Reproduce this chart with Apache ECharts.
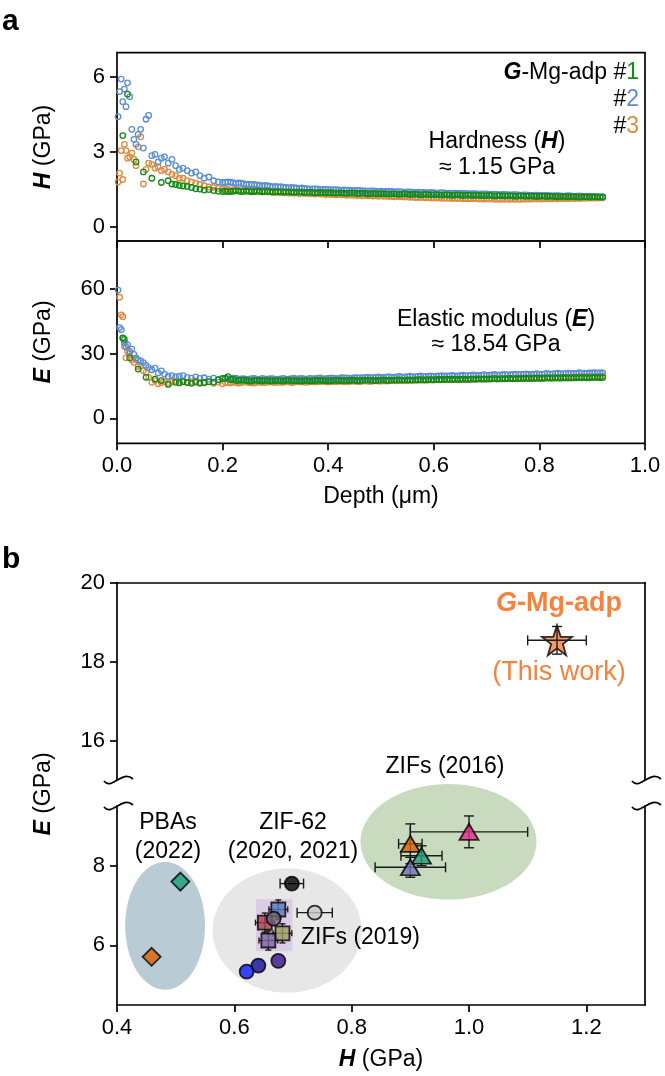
<!DOCTYPE html>
<html><head><meta charset="utf-8">
<script src="https://cdn.jsdelivr.net/npm/echarts@6/dist/echarts.min.js"></script>
<style>html,body{margin:0;padding:0;background:#fff}#c{width:665px;height:1076px}</style>
</head><body><div id="c"></div>
<script>
const FONT = "'Liberation Sans', Arial, Helvetica, sans-serif";

// ---------- Panel a data ----------
const depth = [0.002,0.005,0.008,0.011,0.014,0.017,0.020,0.024,0.028,0.032,0.036,0.040,0.045,0.050,0.055,0.060,0.066,0.072,0.078,0.084,0.090,0.097,0.104,0.111,0.118,0.125,0.133,0.141,0.149,0.157,0.165,0.174,0.183,0.192,0.200,
0.21,0.22,0.23,0.24,0.25,0.26,0.27,0.28,0.29,0.30,0.31,0.32,0.33,0.34,0.35,0.36,0.37,0.38,0.39,0.40,
0.41,0.42,0.43,0.44,0.45,0.46,0.47,0.48,0.49,0.50,0.51,0.52,0.53,0.54,0.55,0.56,0.57,0.58,0.59,0.60,
0.61,0.62,0.63,0.64,0.65,0.66,0.67,0.68,0.69,0.70,0.71,0.72,0.73,0.74,0.75,0.76,0.77,0.78,0.79,0.80,
0.81,0.82,0.83,0.84,0.85,0.86,0.87,0.88,0.89,0.90,0.91,0.92];
const depthHalf = [0.205,0.215,0.225,0.235,0.245,0.255,0.265,0.275,0.285,0.295,0.305,0.315,0.325,0.335,0.345,0.355,0.365,0.375,0.385,0.395,
0.405,0.415,0.425,0.435,0.445,0.455,0.465,0.475,0.485,0.495,0.505,0.515,0.525,0.535,0.545,0.555,0.565,0.575,0.585,0.595,
0.605,0.615,0.625,0.635,0.645,0.655,0.665,0.675,0.685,0.695,0.705,0.715,0.725,0.735,0.745,0.755,0.765,0.775,0.785,0.795,
0.805,0.815,0.825,0.835,0.845,0.855,0.865,0.875,0.885,0.895,0.905,0.915];

// Hardness, sample #1 (green), #2 (blue), #3 (orange)
const hard1 = [null,null,null,3.65,null,null,5.3,null,null,null,2.6,null,null,2.2,null,null,1.95,null,null,1.78,null,1.85,1.72,1.7,1.66,1.64,1.62,1.58,1.53,1.52,1.48,1.5,1.46,1.43,1.42,
1.42,1.43,1.44,1.43,1.43,1.42,1.43,1.42,1.42,1.41,1.41,1.41,1.40,1.40,1.40,1.39,1.39,1.38,1.38,1.38,
1.37,1.37,1.36,1.36,1.36,1.35,1.35,1.34,1.34,1.34,1.33,1.33,1.32,1.32,1.32,1.31,1.31,1.30,1.30,1.30,
1.29,1.29,1.28,1.28,1.28,1.27,1.27,1.27,1.26,1.26,1.26,1.25,1.25,1.25,1.24,1.24,1.24,1.24,1.23,1.23,
1.23,1.23,1.22,1.22,1.22,1.22,1.21,1.21,1.21,1.21,1.21,1.20];
const hard1Half = [1.43,1.42,1.45,1.42,1.44,1.41,1.44,1.41,1.43,1.40,1.42,1.40,1.41,1.39,1.41,1.38,1.40,1.37,1.39,1.37,
1.38,1.36,1.37,1.35,1.37,1.34,1.36,1.33,1.35,1.33,1.34,1.32,1.33,1.31,1.33,1.30,1.32,1.29,1.31,1.29,
1.30,1.28,1.29,1.27,1.29,1.26,1.28,1.26,1.27,1.25,1.27,1.24,1.26,1.24,1.25,1.23,1.25,1.23,1.24,1.22,
1.24,1.22,1.23,1.21,1.23,1.21,1.22,1.20,1.22,1.20,1.21,1.20];
const hard2 = [4.4,5.4,5.9,5.0,5.5,4.8,5.75,5.2,3.9,3.5,3.3,3.7,3.9,3.15,4.3,4.45,2.85,2.9,2.6,2.75,2.8,2.55,2.7,2.45,2.3,2.35,2.25,2.15,2.2,2.05,1.95,2.0,1.85,1.8,1.78,
1.80,1.77,1.76,1.73,1.71,1.70,1.67,1.66,1.63,1.62,1.61,1.58,1.58,1.56,1.56,1.54,1.53,1.53,1.51,1.51,
1.50,1.49,1.49,1.48,1.47,1.47,1.45,1.45,1.44,1.44,1.43,1.43,1.42,1.41,1.41,1.40,1.40,1.39,1.38,1.38,
1.37,1.37,1.36,1.36,1.35,1.35,1.34,1.34,1.33,1.33,1.32,1.31,1.31,1.30,1.30,1.29,1.29,1.28,1.28,1.27,
1.27,1.26,1.26,1.25,1.25,1.25,1.24,1.24,1.23,1.23,1.22,1.22];
const hard2Half = [1.78,1.79,1.74,1.75,1.70,1.69,1.68,1.64,1.65,1.60,1.60,1.59,1.56,1.57,1.54,1.55,1.52,1.53,1.50,1.51,
1.49,1.50,1.47,1.48,1.46,1.46,1.45,1.44,1.45,1.43,1.42,1.43,1.41,1.42,1.40,1.41,1.39,1.39,1.38,1.39,
1.36,1.38,1.35,1.36,1.35,1.35,1.33,1.34,1.32,1.33,1.31,1.32,1.30,1.31,1.29,1.30,1.28,1.29,1.27,1.28,
1.26,1.27,1.25,1.26,1.24,1.26,1.23,1.25,1.22,1.24,1.22,1.21];
const hard3 = [1.8,2.15,3.05,1.9,3.3,3.05,2.75,2.8,2.95,2.7,2.45,3.2,3.6,1.72,2.3,2.55,2.5,2.35,2.4,2.25,2.3,2.2,2.1,2.05,1.95,1.95,1.85,1.8,1.75,1.7,1.65,1.6,1.58,1.55,1.53,
1.51,1.49,1.48,1.47,1.46,1.44,1.44,1.42,1.41,1.40,1.39,1.38,1.37,1.37,1.36,1.35,1.34,1.34,1.33,1.32,
1.31,1.31,1.30,1.29,1.28,1.28,1.27,1.26,1.25,1.25,1.24,1.23,1.22,1.22,1.21,1.20,1.19,1.19,1.18,1.17,
1.17,1.16,1.16,1.15,1.15,1.14,1.14,1.14,1.13,1.13,1.13,1.12,1.12,1.12,1.12,1.12,1.12,1.12,1.13,1.13,
1.13,1.13,1.14,1.14,1.14,1.15,1.15,1.15,1.16,1.16,1.16,1.17];
const hard3Half = [1.50,1.48,1.47,1.45,1.45,1.43,1.43,1.41,1.40,1.39,1.38,1.38,1.36,1.36,1.34,1.35,1.33,1.32,1.32,1.30,
1.30,1.29,1.29,1.27,1.27,1.26,1.25,1.25,1.24,1.23,1.23,1.22,1.21,1.21,1.20,1.19,1.18,1.18,1.17,1.16,
1.16,1.15,1.15,1.14,1.14,1.13,1.13,1.13,1.12,1.12,1.12,1.11,1.11,1.11,1.11,1.11,1.11,1.12,1.12,1.12,
1.12,1.13,1.13,1.13,1.14,1.14,1.14,1.15,1.15,1.16,1.16,1.17];

// Elastic modulus, sample #1 (green), #2 (blue), #3 (orange)
const mod1 = [null,null,null,37.2,36.5,null,null,28,null,null,null,22.8,null,null,19,null,null,18.2,null,17.5,null,15.7,null,16.7,16.4,17,16.6,16.2,16.8,16.3,16.6,17,16.8,17.8,18.5,
19.3,18.2,17.6,17.8,17.3,17.6,17.4,17.5,17.3,17.5,17.4,17.6,17.4,17.5,17.3,17.5,17.4,17.6,17.5,17.4,
17.6,17.5,17.6,17.4,17.6,17.5,17.7,17.6,17.5,17.7,17.6,17.7,17.8,17.7,17.8,17.7,17.9,17.8,17.9,17.8,
18.0,17.9,18.0,18.1,18.0,18.1,18.2,18.1,18.2,18.2,18.3,18.2,18.3,18.4,18.3,18.4,18.5,18.4,18.5,18.5,
18.6,18.6,18.7,18.6,18.7,18.7,18.8,18.8,18.8,18.9,18.9,18.9];
const mod1Half = [18.6,17.9,17.5,17.6,17.5,17.3,17.6,17.4,17.6,17.4,17.5,17.3,17.6,17.4,17.4,17.5,17.3,17.5,17.6,17.5,
17.4,17.6,17.5,17.5,17.7,17.4,17.6,17.7,17.6,17.6,17.8,17.6,17.7,17.8,17.7,17.8,17.8,17.9,17.8,17.9,
17.9,18.0,18.1,18.0,18.1,18.2,18.0,18.2,18.3,18.2,18.2,18.4,18.3,18.3,18.5,18.4,18.4,18.6,18.5,18.6,
18.5,18.7,18.6,18.7,18.8,18.7,18.8,18.9,18.9,18.8,19.0,18.9];
const mod2 = [59.3,42,41,37,35,33,34,31,32,29.6,28,27,26.6,25.8,24.5,23.5,22.5,23.2,21,22,20.5,19.5,19.8,19.2,19.5,19.8,19.0,18.6,19.2,18.5,18.8,18.2,18.6,18.0,18.4,
18.3,18.6,18.1,18.4,18.2,18.5,18.0,18.3,18.4,18.1,18.3,18.2,18.4,18.3,18.5,18.2,18.4,18.6,18.3,18.5,
18.6,18.4,18.7,18.6,18.8,18.7,18.9,18.8,19.0,18.9,19.1,19.0,19.2,19.1,19.3,19.2,19.4,19.3,19.5,19.4,
19.6,19.5,19.7,19.6,19.8,19.7,19.9,19.8,20.0,19.9,20.1,20.0,20.2,20.1,20.3,20.2,20.4,20.3,20.5,20.4,
20.6,20.5,20.7,20.6,20.7,20.8,20.7,20.9,20.8,21.0,20.9,21.0];
const mod2Half = [18.5,18.2,18.6,18.3,18.0,18.4,18.2,18.5,18.2,18.4,18.1,18.5,18.2,18.6,18.4,18.3,18.5,18.4,18.7,18.4,
18.7,18.5,18.8,18.7,18.6,18.9,18.8,19.1,18.9,19.2,19.0,19.3,19.1,19.4,19.2,19.5,19.3,19.6,19.4,19.7,
19.5,19.8,19.6,19.9,19.7,20.0,19.8,20.1,19.9,20.2,20.0,20.3,20.1,20.4,20.2,20.5,20.3,20.6,20.4,20.7,
20.5,20.8,20.6,20.9,20.7,20.9,20.8,21.1,20.9,21.0,21.1,21.2];
const mod3 = [null,56,47.9,47,33.4,28,31,30,27,25.8,27.3,24,24.3,22,21.3,19,16.7,17.5,16,16.5,17,16.5,16.8,17.2,16.6,17,16.5,16.9,17.3,16.7,16.4,16.9,16.2,16.8,16.0,
16.5,16.8,16.3,16.9,16.6,16.4,16.8,16.5,16.9,16.6,16.7,16.9,16.6,17.0,16.8,16.7,17.0,16.9,17.1,16.8,
17.0,17.2,16.9,17.1,17.2,17.0,17.3,17.1,17.4,17.2,17.3,17.5,17.4,17.6,17.5,17.7,17.6,17.8,17.7,17.9,
17.8,18.0,17.9,18.1,18.0,18.2,18.1,18.3,18.2,18.4,18.3,18.5,18.4,18.6,18.5,18.7,18.6,18.8,18.7,18.9,
18.8,19.0,18.9,19.1,19.0,19.2,19.1,19.3,19.2,19.4,19.3,19.5];
const mod3Half = [16.7,16.4,16.7,16.5,16.8,16.4,16.7,16.6,16.8,16.7,16.8,16.7,16.9,16.7,16.9,16.8,17.0,16.8,17.0,16.9,
17.1,17.0,17.1,17.0,17.2,17.1,17.3,17.2,17.3,17.3,17.4,17.4,17.5,17.5,17.6,17.6,17.7,17.7,17.8,17.8,
17.9,17.9,18.0,18.0,18.1,18.1,18.2,18.2,18.3,18.3,18.4,18.4,18.5,18.5,18.6,18.6,18.7,18.7,18.8,18.8,
18.9,18.9,19.0,19.0,19.1,19.1,19.2,19.2,19.3,19.3,19.4,19.6];

const depthTicks = [0, 0.2, 0.4, 0.6, 0.8, 1.0];
const hardTicks = [0, 3, 6];
const modTicks = [0, 30, 60];

// ---------- Panel b data ----------
const hTicksB = [0.4, 0.6, 0.8, 1.0, 1.2];
const eTicksUpper = [16, 18, 20];
const eTicksLower = [6, 8];

// shaded group ellipses: PBAs, ZIF-62, ZIFs (2016)
const ellH = [0.482, 0.690, 0.965];
const ellE = [6.49, 6.37, 8.6];
const ellW = [0.136, 0.254, 0.300];
const ellHt = [3.21, 3.12, 2.9];
const ellColors = ['#b9cbd4', '#e7e7e7', '#c8dbbe'];

// ZIFs (2019) shaded range
const zif19Box = [0.637, 0.699, 5.85, 7.16];

// PBAs (diamonds)
const pbaH = [0.459, 0.508];
const pbaE = [5.71, 7.6];
const pbaColors = ['#d95f02', '#1b9e77'];

// ZIF-62 circles
const circH = [0.698, 0.737, 0.675, 0.641, 0.621];
const circE = [7.55, 6.82, 5.61, 5.49, 5.34];
const circHerr = [0.02, 0.03, 0, 0, 0];
const circEerr = [0, 0, 0, 0, 0];
const circColors = ['#000000', '#c8c8c8', '#3a108e', '#0e0e98', '#0a1aff'];

// ZIFs (2019) squares + circle
const sqH = [0.675, 0.652, 0.682, 0.658];
const sqE = [6.9, 6.57, 6.3, 6.12];
const sqHerr = [0.016, 0.016, 0.016, 0.016];
const sqEerr = [0.24, 0.24, 0.24, 0.24];
const sqColors = ['#5b7bbd', '#a7404e', '#9c9d60', '#7f62a2'];
const z19cH = [0.667];
const z19cE = [6.67];
const z19cColors = ['#6f6474'];

// ZIFs (2016) triangles
const triH = [1.0, 0.9, 0.919, 0.9];
const triE = [8.85, 8.55, 8.25, 7.96];
const triHerr = [0.1, 0.02, 0.035, 0.06];
const triEerr = [0.4, 0.5, 0.25, 0.25];
const triColors = ['#e7298a', '#d95f02', '#1b9e77', '#7570b3'];

// This work
const starH = [1.15];
const starE = [18.54];
const starHerr = [0.05];
const starEerr = [0.35];

const C_GREEN = '#168a16', C_BLUE = '#5b8dd2', C_ORANGE = '#df8a40', C_STAR = '#f5823f';

// ---------- build ----------
const chart = echarts.init(document.getElementById('c'));
const pairs = (ys, yh) => depth.map((d, i) => [d, ys[i]]).concat(depthHalf.map((d, i) => [d, yh[i]])).filter(p => p[1] !== null);
function rings(ys, yh, color, xi, yi) {
  return {type: 'scatter', xAxisIndex: xi, yAxisIndex: yi, data: pairs(ys, yh), symbol: 'circle', symbolSize: 5.5,
    itemStyle: {color: 'rgba(0,0,0,0)', borderColor: color, borderWidth: 1.3, opacity: 1}, silent: true, z: 2};
}
function pts(hs, es, colors, symbol, size, xi, yi, z) {
  return {type: 'scatter', xAxisIndex: xi, yAxisIndex: yi, symbol, symbolSize: size, silent: true, z: z || 5,
    data: hs.map((h, i) => ({value: [h, es[i]], itemStyle: {color: colors[i], borderColor: '#000', borderWidth: 1.8}}))};
}
function errBars(hs, es, herr, eerr, cap, xi, yi, z) {
  return {type: 'custom', xAxisIndex: xi, yAxisIndex: yi, silent: true, z: z || 4, clip: false,
    encode: {x: 0, y: 1},
    data: hs.map((h, i) => [h, es[i], herr[i], eerr[i]]),
    renderItem(params, api) {
      const x = api.value(0), y = api.value(1), dx = api.value(2), dy = api.value(3);
      const st = {stroke: '#1a1a1a', lineWidth: 1.4, fill: null};
      const ch = [];
      if (dx > 0) {
        const a = api.coord([x - dx, y]), b = api.coord([x + dx, y]);
        ch.push({type: 'line', shape: {x1: a[0], y1: a[1], x2: b[0], y2: b[1]}, style: st});
        ch.push({type: 'line', shape: {x1: a[0], y1: a[1] - cap, x2: a[0], y2: a[1] + cap}, style: st});
        ch.push({type: 'line', shape: {x1: b[0], y1: b[1] - cap, x2: b[0], y2: b[1] + cap}, style: st});
      }
      if (dy > 0) {
        const a = api.coord([x, y - dy]), b = api.coord([x, y + dy]);
        ch.push({type: 'line', shape: {x1: a[0], y1: a[1], x2: b[0], y2: b[1]}, style: st});
        ch.push({type: 'line', shape: {x1: a[0] - cap, y1: a[1], x2: a[0] + cap, y2: a[1]}, style: st});
        ch.push({type: 'line', shape: {x1: b[0] - cap, y1: b[1], x2: b[0] + cap, y2: b[1]}, style: st});
      }
      return {type: 'group', children: ch};
    }};
}

const ellipseSeries = {
  type: 'custom', xAxisIndex: 3, yAxisIndex: 4, silent: true, z: 1, clip: false, encode: {x: 0, y: 1},
  data: ellH.map((h, i) => [h, ellE[i], ellW[i], ellHt[i]]),
  renderItem(params, api) {
    const cx = api.value(0), cy = api.value(1), w = api.value(2), h = api.value(3);
    const points = [];
    for (let k = 0; k < 96; k++) {
      const t = k / 96 * Math.PI * 2;
      points.push(api.coord([cx + w / 2 * Math.cos(t), cy + h / 2 * Math.sin(t)]));
    }
    return {type: 'polygon', shape: {points}, style: {fill: ellColors[params.dataIndex], stroke: null}};
  }
};
const boxSeries = {
  type: 'custom', xAxisIndex: 3, yAxisIndex: 4, silent: true, z: 1, clip: false, encode: {x: 0, y: 2},
  data: [zif19Box],
  renderItem(params, api) {
    const p0 = api.coord([api.value(0), api.value(3)]), p1 = api.coord([api.value(1), api.value(2)]);
    return {type: 'rect', shape: {x: p0[0], y: p0[1], width: p1[0] - p0[0], height: p1[1] - p0[1]}, style: {fill: '#dccbe4'}};
  }
};

const lineStyle = {color: '#000', width: 1.7};
const tick = {show: true, length: 7, lineStyle};
const lbl = {fontSize: 22, color: '#000', fontFamily: FONT, margin: 12};
const fmt1 = v => v.toFixed(1);

function xAx(grid, min, max, ticks, showLabels, showLine) {
  return {type: 'value', gridIndex: grid, min, max, position: 'bottom',
    axisLine: {show: !!showLine, onZero: false, lineStyle}, splitLine: {show: false},
    axisTick: Object.assign({customValues: ticks}, tick),
    axisLabel: Object.assign({show: showLabels, customValues: ticks, formatter: fmt1}, lbl)};
}
function yAx(grid, min, max, ticks, line) {
  return {type: 'value', gridIndex: grid, min, max, position: 'left',
    axisLine: {show: !!line, onZero: false, lineStyle}, splitLine: {show: false},
    axisTick: Object.assign({customValues: ticks}, tick),
    axisLabel: Object.assign({customValues: ticks}, lbl)};
}
function spine(grid, min, max, position) {
  return {type: 'value', gridIndex: grid, min, max, position,
    axisLine: {show: true, onZero: false, lineStyle}, splitLine: {show: false},
    axisTick: {show: false}, axisLabel: {show: false}};
}

const bi = {fontWeight: 'bold', fontStyle: 'italic', fontSize: 23, fontFamily: FONT, fill: '#000'};
function txt(x, y, text, o) {
  o = o || {};
  const size = o.size || 23;
  const rich = {};
  if (o.rich) for (const k in o.rich) rich[k] = Object.assign({fontSize: size, fontFamily: FONT, fill: o.color || '#000'}, o.rich[k]);
  return {type: 'text', x, y, rotation: o.rot || 0, z: 100, silent: true,
    style: {text, fontSize: size, fontFamily: FONT, fontWeight: o.weight || 'normal', fill: o.color || '#000',
      align: o.align || 'center', verticalAlign: 'middle', textAlign: o.align || 'center', textVerticalAlign: 'middle', rich}};
}
function brk(sx, sy) {
  return {type: 'bezierCurve', z: 100, silent: true,
    shape: {x1: sx - 13, y1: sy + 1, cpx1: sx - 5, cpy1: sy + 11, cpx2: sx + 5, cpy2: sy - 11, x2: sx + 16, y2: sy - 1},
    style: {stroke: '#000', lineWidth: 1.7, fill: null}};
}

const option = {
  animation: false,
  backgroundColor: '#fff',
  grid: [
    {left: 117, right: 20, top: 52.7, height: 188.3, show: true, borderColor: '#000', borderWidth: 1.7, backgroundColor: 'rgba(0,0,0,0)', outerBoundsMode: 'none'},
    {left: 117, right: 20, top: 241, height: 202.3, show: true, borderColor: '#000', borderWidth: 1.7, backgroundColor: 'rgba(0,0,0,0)', outerBoundsMode: 'none'},
    {left: 117, right: 20, top: 582.7, height: 197.3, outerBoundsMode: 'none'},
    {left: 117, right: 20, top: 806, height: 199, outerBoundsMode: 'none'}
  ],
  xAxis: [
    xAx(0, 0, 1, depthTicks, false, false),
    xAx(1, 0, 1, depthTicks, true, false),
    {type: 'value', gridIndex: 2, min: 0.4, max: 1.3, position: 'top', axisLine: {show: true, onZero: false, lineStyle},
      axisTick: {show: false}, axisLabel: {show: false}, splitLine: {show: false}},
    xAx(3, 0.4, 1.3, hTicksB, true, true)
  ],
  yAxis: [
    yAx(0, -0.55, 6.95, hardTicks, false),
    yAx(1, -11.5, 82, modTicks, false),
    yAx(2, 15, 20, eTicksUpper, true),
    spine(2, 15, 20, 'right'),
    yAx(3, 4.5, 9.5, eTicksLower, true),
    spine(3, 4.5, 9.5, 'right')
  ],
  series: [
    rings(hard3, hard3Half, C_ORANGE, 0, 0), rings(hard2, hard2Half, C_BLUE, 0, 0), rings(hard1, hard1Half, C_GREEN, 0, 0),
    rings(mod3, mod3Half, C_ORANGE, 1, 1), rings(mod2, mod2Half, C_BLUE, 1, 1), rings(mod1, mod1Half, C_GREEN, 1, 1),
    ellipseSeries, boxSeries,
    errBars(circH, circE, circHerr, circEerr, 5, 3, 4, 3),
    errBars(sqH, sqE, sqHerr, sqEerr, 3, 3, 4, 3),
    errBars(triH, triE, triHerr, triEerr, 5, 3, 4, 3),
    pts(pbaH, pbaE, pbaColors, 'diamond', 18, 3, 4),
    pts(circH, circE, circColors, 'circle', 14, 3, 4),
    pts(sqH, sqE, sqColors, 'rect', 14, 3, 4),
    pts(z19cH, z19cE, z19cColors, 'circle', 14, 3, 4, 6),
    pts(triH, triE, triColors, 'triangle', [19, 16], 3, 4),
    pts(starH, starE, [C_STAR], 'path://M50,0 L61.8,35.1 L98.1,35.1 L68.8,56.7 L79.4,91 L50,70 L20.6,91 L31.2,56.7 L1.9,35.1 L38.2,35.1 Z', 30, 2, 2),
    errBars(starH, starE, starHerr, starEerr, 5, 2, 2, 8)
  ],
  graphic: [
    txt(2, 22, 'a', {size: 30, weight: 'bold', align: 'left'}),
    txt(2, 560, 'b', {size: 30, weight: 'bold', align: 'left'}),
    txt(44, 147, '{b|H} (GPa)', {rot: Math.PI / 2, rich: {b: bi}}),
    txt(44, 342, '{b|E} (GPa)', {rot: Math.PI / 2, rich: {b: bi}}),
    txt(44, 794, '{b|E} (GPa)', {rot: Math.PI / 2, rich: {b: bi}}),
    txt(381, 497, 'Depth (μm)'),
    txt(381, 1060, '{b|H} (GPa)', {rich: {b: bi}}),
    txt(639, 73, '{b|G}-Mg-adp #{g|1}', {align: 'right', rich: {b: bi, g: {fill: C_GREEN}}}),
    txt(639, 100, '#{g|2}', {align: 'right', rich: {g: {fill: C_BLUE}}}),
    txt(639, 127, '#{g|3}', {align: 'right', rich: {g: {fill: C_ORANGE}}}),
    txt(497, 142, 'Hardness ({b|H})', {rich: {b: bi}}),
    txt(497, 168, '≈ 1.15 GPa'),
    txt(496, 320, 'Elastic modulus ({b|E})', {rich: {b: bi}}),
    txt(496, 345, '≈ 18.54 GPa'),
    txt(559, 604, '{b|G}-Mg-adp', {size: 27, weight: 'bold', color: C_STAR, rich: {b: {fontWeight: 'bold', fontStyle: 'italic', fill: C_STAR}}}),
    txt(559, 673, '(This work)', {size: 27, color: C_STAR}),
    txt(168, 823, 'PBAs'),
    txt(168, 852, '(2022)'),
    txt(293, 823, 'ZIF-62'),
    txt(293, 852, '(2020, 2021)'),
    txt(301, 938, 'ZIFs (2019)', {align: 'left'}),
    txt(445, 767, 'ZIFs (2016)'),
    brk(117, 780), brk(117, 806), brk(645, 780), brk(645, 806)
  ]
};
chart.setOption(option);
</script>
</body></html>
